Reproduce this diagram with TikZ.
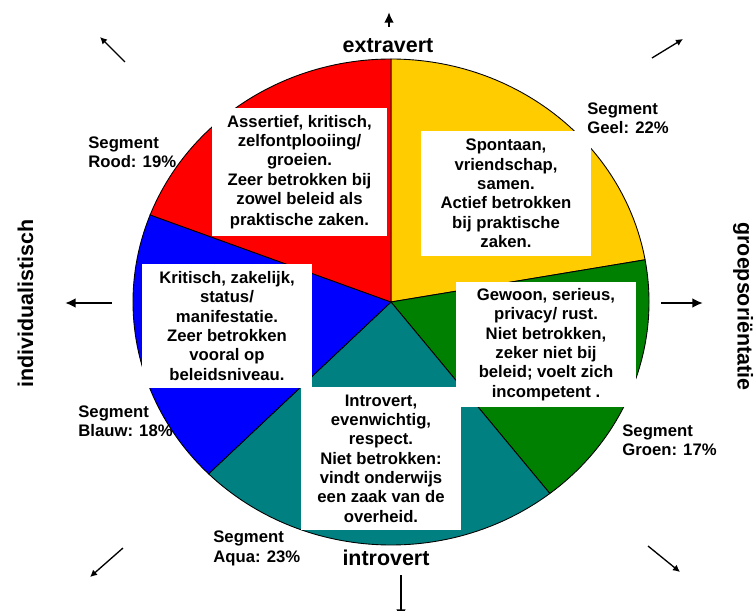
\documentclass[tikz,border=0pt]{standalone}
\usepackage{fontspec}
\setmainfont{Liberation Sans}
\usetikzlibrary{arrows.meta}
\definecolor{rood}{RGB}{255,0,0}
\definecolor{geel}{RGB}{255,204,0}
\definecolor{groen}{RGB}{0,128,0}
\definecolor{aqua}{RGB}{0,128,128}
\definecolor{blauw}{RGB}{0,0,255}

\begin{document}
\begin{tikzpicture}[x=0.02cm,y=-0.02cm,
    taart/.style={draw=black,line width=0.5pt},
    vak/.style={fill=white,inner sep=0pt,align=center,font=\bfseries\fontsize{9.5}{11}\selectfont},
    seg/.style={inner sep=0pt,align=left,anchor=west,font=\bfseries\fontsize{9.5}{11}\selectfont},
    as/.style={inner sep=0pt,anchor=base,font=\bfseries\fontsize{12.2}{14}\selectfont},
    dun/.style={-{Latex[length=4pt,width=4pt]},line width=0.75pt},
    dik/.style={-{Latex[length=6pt,width=5.5pt]},line width=1.6pt}]
  \useasboundingbox (0,0) rectangle (754,611);
  \coordinate (c) at (391,302);
  \filldraw[taart,fill=geel] (c) -- ++(-90:258 and 243) arc[start angle=-90,end angle=-10,x radius=258,y radius=243] -- cycle;
  \filldraw[taart,fill=groen] (c) -- ++(-10:258 and 243) arc[start angle=-10,end angle=52,x radius=258,y radius=243] -- cycle;
  \filldraw[taart,fill=aqua] (c) -- ++(52:258 and 243) arc[start angle=52,end angle=135,x radius=258,y radius=243] -- cycle;
  \filldraw[taart,fill=blauw] (c) -- ++(135:258 and 243) arc[start angle=135,end angle=201,x radius=258,y radius=243] -- cycle;
  \filldraw[taart,fill=rood] (c) -- ++(201:258 and 243) arc[start angle=201,end angle=270,x radius=258,y radius=243] -- cycle;

  \node[vak,minimum width=3.5cm,minimum height=2.56cm] (tekstrood) at (299.5,172)
    {Assertief, kritisch,\\zelfontplooiing/\\groeien.\\Zeer betrokken bij\\zowel beleid als\\[1pt]praktische zaken.};
  \node[vak,minimum width=3.4cm,minimum height=2.5cm] (tekstgeel) at (506,193.5)
    {Spontaan,\\vriendschap,\\samen.\\Actief betrokken\\bij praktische\\zaken.};
  \node[vak,minimum width=3.6cm,minimum height=2.5cm] (tekstgroen) at (546,344.5)
    {Gewoon, serieus,\\privacy/ rust.\\Niet betrokken,\\zeker niet bij\\beleid; voelt zich\\incompetent .};
  \node[vak,minimum width=3.4cm,minimum height=2.48cm] (tekstblauw) at (227,326)
    {Kritisch, zakelijk,\\status/\\manifestatie.\\Zeer betrokken\\vooral op\\beleidsniveau.};
  \node[vak,minimum width=3.2cm,minimum height=2.86cm] (tekstaqua) at (381,458.5)
    {Introvert,\\evenwichtig,\\respect.\\Niet betrokken:\\vindt onderwijs\\een zaak van de\\overheid.};

  \node[seg] (segrood) at (88,152.5) {Segment\\Rood: 19\%};
  \node[seg] (seggeel) at (587,118.5) {Segment\\Geel: 22\%};
  \node[seg] (segblauw) at (78,421.5) {Segment\\Blauw: 18\%};
  \node[seg] (segaqua) at (213,548.5) {Segment\\Aqua: 23\%};
  \node[seg] (seggroen) at (622,440.5) {Segment\\Groen: 17\%};

  \node[as] (extravert) at (388,53) {extravert};
  \node[as] (introvert) at (386,565) {introvert};
  \node[as,rotate=90] (individueel) at (33,303.5) {individualistisch};
  \node[as,rotate=-90] (groep) at (737.5,306.5) {groepsoriëntatie};

  \coordinate (boven1) at (389,27);
  \coordinate (boven2) at (389,12);
  \coordinate (onder1) at (401,575);
  \coordinate (onder2) at (401,620);
  \coordinate (links1) at (112,303);
  \coordinate (links2) at (65,303);
  \coordinate (rechts1) at (661,303);
  \coordinate (rechts2) at (703,303);
  \coordinate (lb1) at (125,62);
  \coordinate (lb2) at (100,37);
  \coordinate (rb1) at (652,58);
  \coordinate (rb2) at (683,39);
  \coordinate (lo1) at (123,548);
  \coordinate (lo2) at (90,577);
  \coordinate (ro1) at (648,546);
  \coordinate (ro2) at (680,572);
  \draw[dik] (boven1) -- (boven2);
  \draw[dik] (onder1) -- (onder2);
  \draw[dik] (links1) -- (links2);
  \draw[dik] (rechts1) -- (rechts2);
  \draw[dun] (lb1) -- (lb2);
  \draw[dun] (rb1) -- (rb2);
  \draw[dun] (lo1) -- (lo2);
  \draw[dun] (ro1) -- (ro2);
\end{tikzpicture}
\end{document}
